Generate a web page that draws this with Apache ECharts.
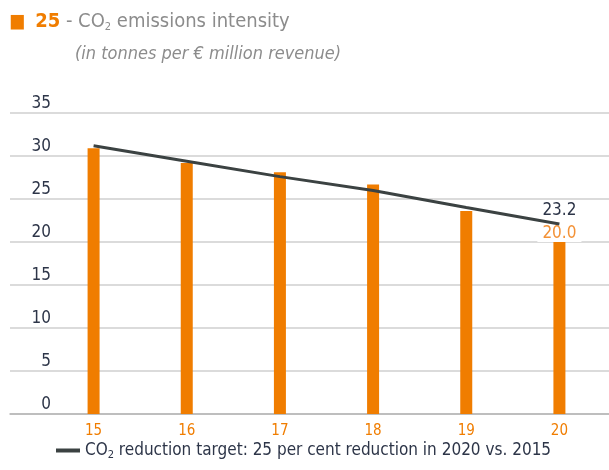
<!DOCTYPE html>
<html>
<head>
<meta charset="utf-8">
<script src="https://cdn.jsdelivr.net/npm/echarts@6/dist/echarts.min.js"></script>
<style>html,body{margin:0;padding:0;background:#fff;}#c{width:609px;height:470px;}</style>
</head>
<body>
<div id="c"></div>
<script>
var categories = ['15', '16', '17', '18', '19', '20'];
var intensityValues = [30.9, 29.2, 28.1, 26.7, 23.6, 20.0];
var targetLine = [31.2, 29.4, 27.6, 26.0, 24.0, 22.1];
var targetLabel = '23.2';
var yTicks = [0, 5, 10, 15, 20, 25, 30, 35];
var legendName = 'CO2 reduction target: 25 per cent reduction in 2020 vs. 2015';

var FONT = "'DejaVu Sans Condensed', 'Liberation Sans Narrow', sans-serif";
var ORANGE = '#f07d00';
var chart = echarts.init(document.getElementById('c'), null, {renderer: 'canvas'});
chart.setOption({
  backgroundColor: '#fff',
  animation: false,
  title: [{
    left: 4, top: 6,
    text: '{sq|■}{num|25}{t| - CO}{sub|2}{t| emissions intensity}',
    textStyle: {
      fontFamily: FONT, fontWeight: 'normal',
      rich: {
        sq: {color: ORANGE, fontSize: 19, fontFamily: FONT, padding: [0, 10, 0, 0]},
        num: {color: ORANGE, fontSize: 20, fontWeight: 'bold', fontFamily: FONT},
        t: {color: '#8c8c8c', fontSize: 20, fontWeight: 'normal', fontFamily: FONT},
        sub: {color: '#8c8c8c', fontSize: 11, fontWeight: 'normal', fontFamily: FONT, verticalAlign: 'bottom', padding: [11, 0, 0, 0]}
      }
    }
  }, {
    left: 70, top: 40,
    text: '(in tonnes per € million revenue)',
    textStyle: {color: '#8c8c8c', fontSize: 18, fontStyle: 'italic', fontWeight: 'normal', fontFamily: FONT}
  }],
  legend: {
    left: 51, bottom: 4,
    data: [legendName],
    icon: 'rect', itemWidth: 24, itemHeight: 4, itemGap: 8,
    formatter: function () { return '{a|CO}{s|2}{a| reduction target: 25 per cent reduction in 2020 vs. 2015}'; },
    textStyle: {
      fontFamily: FONT,
      rich: {
        a: {color: '#2d3548', fontSize: 17, fontFamily: FONT},
        s: {color: '#2d3548', fontSize: 11, fontFamily: FONT, verticalAlign: 'bottom', padding: [10, 0, 0, 0]}
      }
    }
  },
  grid: [
    {left: 10, right: 0, top: 113, bottom: 56},
    {left: 47, right: 3, top: 113, bottom: 56}
  ],
  xAxis: [
    {gridIndex: 0, type: 'value', min: 0, max: 1,
     axisLine: {show: true, onZero: false, lineStyle: {color: '#b5b5b5', width: 1.5}},
     axisTick: {show: false}, axisLabel: {show: false}, splitLine: {show: false}},
    {gridIndex: 1, type: 'category', data: categories, boundaryGap: true,
     axisLine: {show: false}, axisTick: {show: false},
     axisLabel: {color: ORANGE, fontSize: 15, fontFamily: FONT, margin: 10}}
  ],
  yAxis: [
    {gridIndex: 0, type: 'value', min: yTicks[0], max: yTicks[yTicks.length - 1], interval: 5,
     axisLine: {show: false}, axisTick: {show: false},
     axisLabel: {color: '#2d3548', fontSize: 17, fontFamily: FONT, margin: -41, align: 'right', verticalAlign: 'bottom', padding: [0, 0, 1, 0]},
     splitLine: {show: true, lineStyle: {color: '#cfcfcf', width: 1.5}}},
    {gridIndex: 1, type: 'value', min: yTicks[0], max: yTicks[yTicks.length - 1], interval: 5, show: false}
  ],
  series: [
    {type: 'bar', xAxisIndex: 1, yAxisIndex: 1, data: intensityValues, barWidth: 12,
     itemStyle: {color: ORANGE},
     label: {show: true, position: 'top', distance: 0, color: '#f39237', fontSize: 17, fontFamily: FONT,
       backgroundColor: '#fff', padding: [0, 5, 0, 5],
       formatter: function (p) { return p.dataIndex === intensityValues.length - 1 ? p.value.toFixed(1) : ''; }},
     z: 3},
    {type: 'line', name: legendName, xAxisIndex: 1, yAxisIndex: 1, data: targetLine,
     symbol: 'circle', symbolSize: 0, showSymbol: true, lineStyle: {color: '#3b4242', width: 3}, itemStyle: {color: '#3b4242'},
     label: {show: true, position: 'top', distance: 5, color: '#2d3548', fontSize: 17, fontFamily: FONT,
       formatter: function (p) { return p.dataIndex === targetLine.length - 1 ? targetLabel : ''; }},
     labelLayout: {hideOverlap: false},
     z: 4}
  ]
});
</script>
</body>
</html>
